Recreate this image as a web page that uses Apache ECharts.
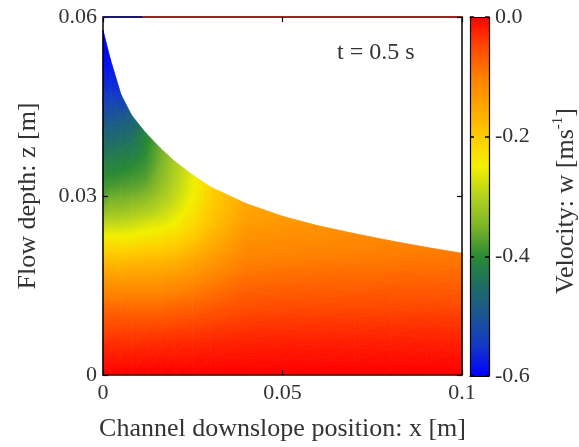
<!DOCTYPE html>
<html>
<head>
<meta charset="utf-8">
<script src="https://cdn.jsdelivr.net/npm/echarts@6/dist/echarts.min.js"></script>
<style>
  html, body { margin: 0; padding: 0; background: #fff; }
  #chart { width: 579px; height: 447px; }
</style>
</head>
<body>
<div id="chart"></div>
<script>
// snapshot time
const timeLabel = "t = 0.5 s";
// downslope positions of the sampled columns [m]
const xPos = [0, 0.002, 0.005, 0.008, 0.012, 0.016, 0.02, 0.025, 0.03, 0.04, 0.05, 0.06, 0.07, 0.08, 0.09, 0.1];
// free surface height at each column [m]
const surfaceDepth = [0.0578, 0.053, 0.047, 0.0435, 0.0405, 0.038, 0.0358, 0.0335, 0.0315, 0.0287, 0.0266, 0.025, 0.0237, 0.0225, 0.0214, 0.0204];
// fraction of the local depth (bed -> surface)
const sigma = [0, 0.1, 0.2, 0.3, 0.4, 0.5, 0.6, 0.7, 0.8, 0.9, 1];
// vertical velocity w [m/s], one row per column, bed -> surface
const velocity = [
  [0, -0.035, -0.08, -0.15, -0.25, -0.36, -0.41, -0.465, -0.54, -0.585, -0.6],
  [0, -0.03, -0.07, -0.13, -0.21, -0.31, -0.385, -0.43, -0.49, -0.555, -0.59],
  [0, -0.028, -0.06, -0.11, -0.175, -0.255, -0.335, -0.39, -0.43, -0.48, -0.55],
  [0, -0.025, -0.055, -0.097, -0.15, -0.22, -0.295, -0.36, -0.4, -0.44, -0.48],
  [0, -0.022, -0.05, -0.088, -0.135, -0.19, -0.255, -0.32, -0.37, -0.395, -0.41],
  [0, -0.02, -0.045, -0.08, -0.122, -0.17, -0.225, -0.28, -0.32, -0.345, -0.36],
  [0, -0.018, -0.04, -0.07, -0.107, -0.15, -0.197, -0.245, -0.28, -0.3, -0.31],
  [0, -0.016, -0.035, -0.06, -0.09, -0.125, -0.16, -0.2, -0.23, -0.25, -0.26],
  [0, -0.014, -0.03, -0.05, -0.075, -0.1, -0.13, -0.16, -0.185, -0.2, -0.21],
  [0, -0.011, -0.024, -0.039, -0.055, -0.072, -0.09, -0.107, -0.123, -0.138, -0.15],
  [0, -0.01, -0.021, -0.034, -0.048, -0.063, -0.079, -0.095, -0.11, -0.123, -0.135],
  [0, -0.009, -0.019, -0.031, -0.044, -0.058, -0.072, -0.086, -0.1, -0.113, -0.125],
  [0, -0.008, -0.018, -0.029, -0.041, -0.054, -0.067, -0.08, -0.093, -0.105, -0.115],
  [0, -0.008, -0.017, -0.027, -0.038, -0.05, -0.062, -0.074, -0.086, -0.097, -0.107],
  [0, -0.007, -0.016, -0.025, -0.035, -0.046, -0.058, -0.069, -0.08, -0.091, -0.1],
  [0, -0.007, -0.015, -0.024, -0.034, -0.044, -0.055, -0.065, -0.076, -0.086, -0.095]
];
// dark strip on the top border near the wall
const topEdgeBlue = [[0, 0.06], [0.011, 0.06]];
// tick values
const xTicks = [0, 0.05, 0.1];
const zTicks = [0, 0.03, 0.06];
const wTicks = [-0.6, -0.4, -0.2, 0];

// colour scale, -0.6 .. 0 in steps of 0.05
const wMin = -0.6, wMax = 0;
const palette = ["#0000ff", "#1238c8", "#1b5494", "#1e6c66", "#2a8a34", "#7cb42a", "#b4d21e",
  "#f2f000", "#ffcc00", "#ffa600", "#ff8000", "#ff4800", "#ff0000"];
const FONT = "Liberation Serif";

function hexRgb(h) {
  return [parseInt(h.slice(1, 3), 16), parseInt(h.slice(3, 5), 16), parseInt(h.slice(5, 7), 16)];
}
const paletteRgb = palette.map(hexRgb);
const step = (wMax - wMin) / (palette.length - 1);

function wColor(w) {
  let t = (w - wMin) / step;
  t = Math.max(0, Math.min(palette.length - 1, t));
  const j = Math.min(palette.length - 2, Math.floor(t));
  const f = t - j;
  const a = paletteRgb[j], b = paletteRgb[j + 1];
  const c = a.map((v, n) => Math.round(v + (b[n] - v) * f));
  return "rgb(" + c.join(",") + ")";
}

function stops(lo, hi) {
  const out = [{ offset: 0, color: wColor(lo) }];
  for (let j = 0; j < palette.length; j++) {
    const v = wMin + j * step;
    if (v > lo && v < hi) out.push({ offset: (v - lo) / (hi - lo), color: palette[j] });
  }
  out.push({ offset: 1, color: wColor(hi) });
  return out;
}

// one triangle, filled with a gradient along its value slope
function triangle(t) {
  const A = t[0], B = t[1], C = t[2];
  const x1 = B.p[0] - A.p[0], y1 = B.p[1] - A.p[1];
  const x2 = C.p[0] - A.p[0], y2 = C.p[1] - A.p[1];
  const d1 = B.w - A.w, d2 = C.w - A.w;
  const det = x1 * y2 - x2 * y1;
  const ws = t.map(v => v.w);
  const lo = Math.min(...ws), hi = Math.max(...ws);
  let fill = wColor(A.w);
  if (Math.abs(det) > 1e-9 && hi - lo > 1e-6) {
    const ga = (d1 * y2 - d2 * y1) / det;
    const gb = (x1 * d2 - x2 * d1) / det;
    const gl = Math.hypot(ga, gb);
    const vmin = t.reduce((m, v) => (v.w < m.w ? v : m));
    const L = (hi - lo) / gl;
    fill = {
      type: "linear", global: true,
      x: vmin.p[0], y: vmin.p[1],
      x2: vmin.p[0] + ga / gl * L, y2: vmin.p[1] + gb / gl * L,
      colorStops: stops(lo, hi)
    };
  }
  return {
    type: "polygon",
    shape: { points: t.map(v => v.p) },
    style: { fill: fill, stroke: fill, lineWidth: 0.8 }
  };
}

function renderCell(params, api) {
  const i = api.value(0), k = api.value(1);
  const node = (a, b) => ({ p: api.coord([xPos[a], sigma[b] * surfaceDepth[a]]), w: velocity[a][b] });
  const p00 = node(i, k), p10 = node(i + 1, k), p11 = node(i + 1, k + 1), p01 = node(i, k + 1);
  return {
    type: "group",
    children: [triangle([p00, p10, p11]), triangle([p00, p11, p01])]
  };
}

function renderBar(params, api) {
  const top = api.coord([0, wMax]);
  const bot = api.coord([1, wMin]);
  const cs = palette.map((c, j) => ({ offset: (wMax - (wMin + j * step)) / (wMax - wMin), color: c })).reverse();
  return {
    type: "rect",
    shape: { x: top[0], y: top[1], width: bot[0] - top[0], height: bot[1] - top[1] },
    style: { fill: { type: "linear", x: 0, y: 0, x2: 0, y2: 1, colorStops: cs } }
  };
}

const cells = [];
for (let i = 0; i < xPos.length - 1; i++) {
  for (let k = 0; k < sigma.length - 1; k++) cells.push([i, k]);
}

const label = { fontFamily: FONT, fontSize: 22, color: "#333" };
const tickIn = { show: true, inside: true, length: 5, lineStyle: { color: "#000", width: 1.2 } };
const line = (color, width) => ({ show: true, onZero: false, lineStyle: { color: color, width: width } });

const chart = echarts.init(document.getElementById("chart"));
chart.setOption({
  animation: false,
  backgroundColor: "#fff",
  grid: [
    { left: 103, top: 17, width: 359, height: 359 },
    { left: 470, top: 17, width: 19, height: 359 }
  ],
  xAxis: [
    {
      gridIndex: 0, type: "value", min: xTicks[0], max: xTicks[2], interval: xTicks[1] - xTicks[0], z: 5,
      name: "Channel downslope position: x [m]", nameLocation: "middle", nameGap: 41,
      nameTextStyle: { fontFamily: FONT, fontSize: 26, color: "#333" },
      axisLine: line("#4a1010", 1.5),
      axisTick: tickIn,
      axisLabel: Object.assign({ margin: 7, formatter: v => (Math.abs(v) < 1e-9 ? "0" : String(+v.toFixed(2))) }, label),
      splitLine: { show: false }
    },
    {
      gridIndex: 0, type: "value", position: "top", min: xTicks[0], max: xTicks[2], interval: xTicks[1] - xTicks[0], z: 5,
      axisLine: line("#9b2626", 2),
      axisTick: tickIn, axisLabel: { show: false }, splitLine: { show: false }
    },
    {
      gridIndex: 1, type: "value", min: 0, max: 1, z: 5,
      axisLine: line("#000", 1.2),
      axisTick: { show: false }, axisLabel: { show: false }, splitLine: { show: false }
    },
    {
      gridIndex: 1, type: "value", position: "top", min: 0, max: 1, z: 5,
      axisLine: line("#000", 1.2),
      axisTick: { show: false }, axisLabel: { show: false }, splitLine: { show: false }
    }
  ],
  yAxis: [
    {
      gridIndex: 0, type: "value", min: zTicks[0], max: zTicks[2], interval: zTicks[1] - zTicks[0], z: 5,
      name: "Flow depth: z [m]", nameLocation: "middle", nameGap: 62,
      nameTextStyle: { fontFamily: FONT, fontSize: 26, color: "#333" },
      axisLine: line("#000", 1.5),
      axisTick: tickIn,
      axisLabel: Object.assign({ margin: 6, formatter: v => (Math.abs(v) < 1e-9 ? "0" : v.toFixed(2)) }, label),
      splitLine: { show: false }
    },
    {
      gridIndex: 0, type: "value", position: "right", min: zTicks[0], max: zTicks[2], interval: zTicks[1] - zTicks[0], z: 5,
      axisLine: line("#000", 1.5),
      axisTick: tickIn, axisLabel: { show: false }, splitLine: { show: false }
    },
    {
      gridIndex: 1, type: "value", position: "right", min: wTicks[0], max: wTicks[3], interval: wTicks[1] - wTicks[0], z: 5,
      axisLine: line("#000", 1.2),
      axisTick: { show: true, inside: true, length: 4, lineStyle: { color: "#000", width: 1.5 } },
      axisLabel: Object.assign({ margin: 6, formatter: v => (Math.abs(v) < 1e-9 ? "0.0" : v.toFixed(1)) }, label),
      splitLine: { show: false }
    },
    {
      gridIndex: 1, type: "value", position: "left", min: wTicks[0], max: wTicks[3], interval: wTicks[1] - wTicks[0], z: 5,
      axisLine: line("#000", 1.2),
      axisTick: { show: true, inside: true, length: 4, lineStyle: { color: "#000", width: 1.5 } },
      axisLabel: { show: false }, splitLine: { show: false }
    }
  ],
  series: [
    {
      type: "custom", xAxisIndex: 0, yAxisIndex: 0, silent: true,
      renderItem: renderCell, data: cells, z: 2
    },
    {
      type: "custom", xAxisIndex: 2, yAxisIndex: 2, silent: true,
      renderItem: renderBar, data: [[0, 0]], z: 2
    },
    {
      type: "line", xAxisIndex: 0, yAxisIndex: 0, data: topEdgeBlue, clip: false,
      symbol: "none", silent: true, z: 10,
      lineStyle: { color: "#1a1a6a", width: 2 }
    }
  ],
  graphic: [
    {
      type: "text", left: 337, top: 41,
      style: { text: timeLabel, fontFamily: FONT, fontSize: 24, fill: "#333" }
    },
    {
      type: "text", x: 566, y: 201, rotation: Math.PI / 2,
      style: {
        text: "{n|Velocity: w [ms}{s|-1}{n|]}",
        align: "center", verticalAlign: "middle",
        rich: {
          n: { fontFamily: FONT, fontSize: 26, fill: "#333", lineHeight: 30 },
          s: { fontFamily: FONT, fontSize: 15, fill: "#333", lineHeight: 30, verticalAlign: "top" }
        }
      }
    }
  ]
});
</script>
</body>
</html>
